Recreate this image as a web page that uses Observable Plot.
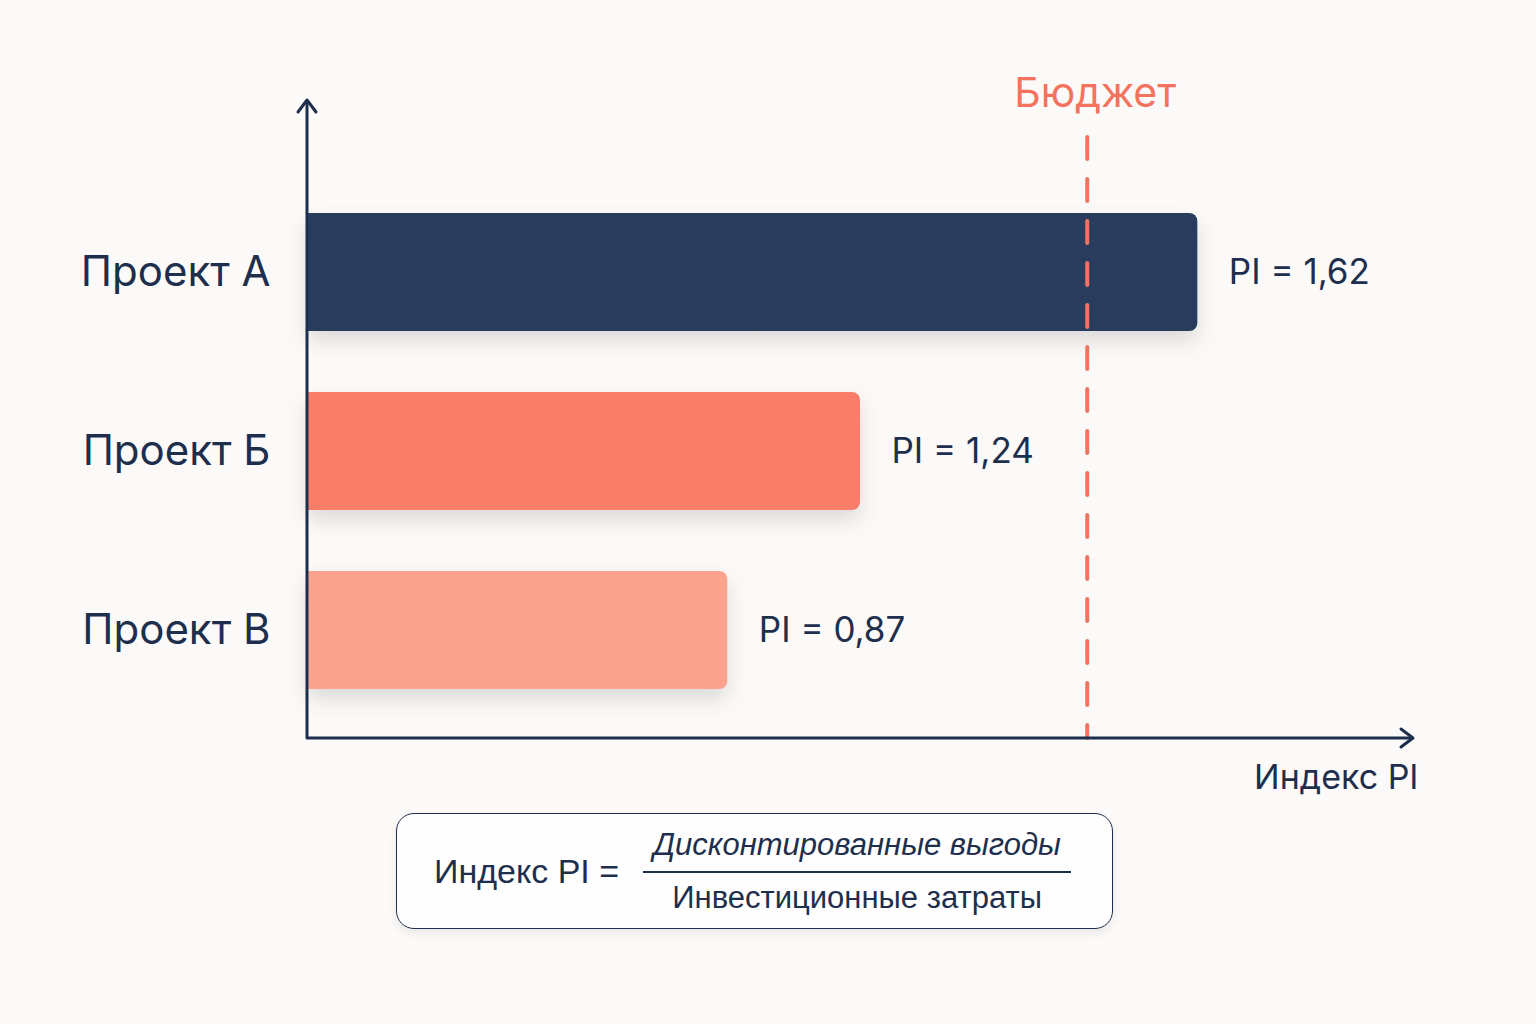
<!DOCTYPE html>
<html>
<head>
<meta charset="utf-8">
<script src="https://cdn.jsdelivr.net/npm/d3@7"></script>
<script src="https://cdn.jsdelivr.net/npm/@observablehq/plot@0.6"></script>
<style>
  html, body { margin: 0; padding: 0; background: #fbfaf8; }
  body { width: 1536px; height: 1024px; overflow: hidden; font-family: Inter, "Noto Sans", sans-serif; }
  #chart svg { display: block; background: transparent; }
  #formula {
    position: absolute; left: 396px; top: 813px; width: 715px; height: 114px;
    border: 1.6px solid #1e2f4d; border-radius: 18px; background: #fefefe;
    box-shadow: 0 4px 8px rgba(0,0,0,0.08);
    display: flex; align-items: center; color: #1e2f4d;
    font-family: "Liberation Sans Narrow", "Liberation Sans", Arial, sans-serif;
  }
  #formula .lhs { font-size: 34px; margin-left: 37px; margin-right: 24px; white-space: nowrap; }
  #formula .frac { display: flex; flex-direction: column; align-items: center; width: 428px; }
  #formula .num, #formula .den { font-size: 31px; white-space: nowrap; line-height: 38px; }
  #formula .num { font-style: italic; }
  #formula .bar { width: 428px; height: 0; border-top: 2px solid #1e2f4d; margin: 7px 0 6px 0; }
</style>
</head>
<body>
<div id="chart"></div>
<div id="formula">
  <div class="lhs" id="lhs"></div>
  <div class="frac">
    <div class="num" id="num"></div>
    <div class="bar"></div>
    <div class="den" id="den"></div>
  </div>
</div>
<script>
const projects = ["Проект А", "Проект Б", "Проект В"];
const piLabels = ["PI = 1,62", "PI = 1,24", "PI = 0,87"];
const barLengths = [1.61, 1.00, 0.76];
const barColors = ["#293c5d", "#f87e69", "#fca38e"];
const budget = 1.41;
const budgetLabel = "Бюджет";
const xAxisLabel = "Индекс PI";
const formulaLeft = "Индекс PI =";
const formulaNum = "Дисконтированные выгоды";
const formulaDen = "Инвестиционные затраты";

const navy = "#1e2f4d";
const coral = "#f3735f";

const data = projects.map((p, i) => ({project: p, len: barLengths[i], label: piLabels[i], color: barColors[i]}));

function axesArrows(index, scales, values, dims) {
  const {marginLeft, marginTop, marginBottom, marginRight, width, height} = dims;
  const x0 = marginLeft, y0 = height - marginBottom, x1 = width - marginRight, yTop = marginTop;
  const g = d3.create("svg:g")
    .attr("stroke", navy).attr("stroke-width", 3).attr("fill", "none")
    .attr("stroke-linecap", "round").attr("stroke-linejoin", "round");
  g.append("path").attr("d", `M${x0},${yTop + 1}V${y0}H${x1 - 1}`);
  g.append("path").attr("d", `M${x0 - 9},${yTop + 12}L${x0},${yTop}L${x0 + 9},${yTop + 12}`);
  g.append("path").attr("d", `M${x1 - 12},${y0 - 9}L${x1},${y0}L${x1 - 12},${y0 + 9}`);
  return g.node();
}

const chart = Plot.plot({
  width: 1536,
  height: 800,
  marginLeft: 307,
  marginRight: 123,
  marginTop: 100,
  marginBottom: 62,
  style: {background: "transparent", fontFamily: "Inter, 'Noto Sans', sans-serif", color: navy, overflow: "visible"},
  x: {domain: [0, 2.0], axis: null},
  y: {domain: projects, range: [181.75, 720.25], paddingInner: 0.343, paddingOuter: 0.1715, label: null},
  color: {type: "identity"},
  marks: [
    Plot.barX(data, {y: "project", x1: 0, x2: "len", fill: "color", rx: 8}),
    Plot.barX(data, {y: "project", x1: 0, x2: d => d.len / 2, fill: "color"}),
    Plot.ruleX([budget], {stroke: coral, strokeWidth: 4, strokeDasharray: "22 20", strokeLinecap: "round", insetTop: 37}),
    axesArrows,
    Plot.axisY({tickSize: 0, tickPadding: 37, fontSize: 42, fill: navy, label: null}),
    Plot.text(data, {y: "project", x: "len", text: "label", dx: 31, textAnchor: "start", fontSize: 35, fill: navy}),
    Plot.text([budgetLabel], {x: budget, frameAnchor: "top", text: d => d, dx: 8, dy: -7, lineAnchor: "middle", fontSize: 41, fill: coral}),
    Plot.text([xAxisLabel], {frameAnchor: "bottom-right", text: d => d, dx: 5, dy: 40, lineAnchor: "middle", textAnchor: "end", fontSize: 34, fill: navy})
  ]
});

// soft drop shadow under the rounded bars
const barGroups = chart.querySelectorAll('g[aria-label="bar"]');
if (barGroups.length) barGroups[0].style.filter = "drop-shadow(0px 10px 10px rgba(40,40,50,0.15))";

document.getElementById("chart").appendChild(chart);
document.getElementById("lhs").textContent = formulaLeft;
document.getElementById("num").textContent = formulaNum;
document.getElementById("den").textContent = formulaDen;
</script>
</body>
</html>
